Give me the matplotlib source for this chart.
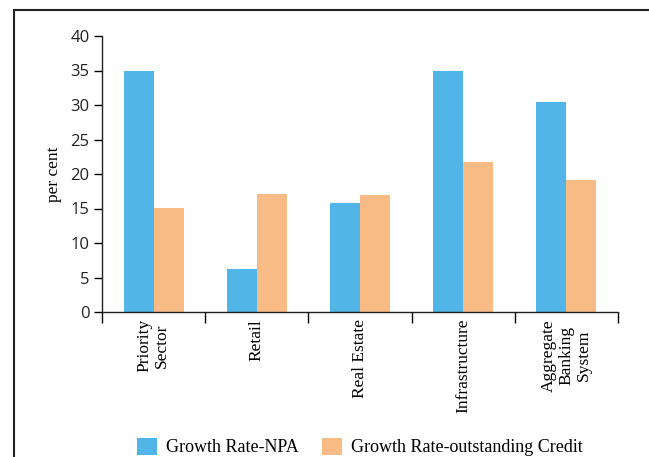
import numpy as np
import matplotlib.pyplot as plt
from matplotlib.lines import Line2D

categories = ['Priority\nSector', 'Retail', 'Real Estate', 'Infrastructure',
              'Aggregate\nBanking\nSystem']
npa_growth = [35.0, 6.2, 15.8, 35.0, 30.5]
credit_growth = [15.1, 17.1, 17.0, 21.7, 19.1]
yticks = [0, 5, 10, 15, 20, 25, 30, 35, 40]

BLUE = '#52B5E8'
ORANGE = '#F8BB85'
SERIF = ['Liberation Serif', 'DejaVu Serif']
SANS = ['Open Sans', 'DejaVu Sans']

fig = plt.figure(figsize=(6.49, 4.57), dpi=100)
ax = fig.add_axes([102 / 649, 1 - 312 / 457, 516 / 649, 276 / 457])

x = np.arange(len(categories))
w = 0.29
ax.bar(x - w / 2, npa_growth, w, color=BLUE, label='Growth Rate-NPA')
ax.bar(x + w / 2, credit_growth, w, color=ORANGE,
       label='Growth Rate-outstanding Credit')

ax.set_xlim(-0.5, len(categories) - 0.5)
ax.set_ylim(0, 40)
ax.set_yticks(yticks)
ax.set_yticklabels([str(t) for t in yticks], family=SANS, fontsize=12,
                   color='#222222')
ax.set_xticks(np.arange(len(categories) + 1) - 0.5)
ax.set_xticklabels([])
ax.set_xticks(x, minor=True)
ax.set_xticklabels(categories, minor=True, rotation=90, family=SERIF,
                   fontsize=12.5, va='top', ha='center', linespacing=1.12)
ax.tick_params(axis='x', which='major', length=8, width=1, direction='out')
ax.tick_params(axis='x', which='minor', length=0, pad=5)
ax.tick_params(axis='y', length=6, width=1, direction='out', pad=3)

for s in ['top', 'right']:
    ax.spines[s].set_visible(False)
for s in ['left', 'bottom']:
    ax.spines[s].set_linewidth(1)
    ax.spines[s].set_color('#222222')

ax.set_ylabel('per cent', family=SERIF, fontsize=12.5, labelpad=6)

leg = fig.legend(loc='center', bbox_to_anchor=(0.555, 1 - 447 / 457), ncol=2,
                 frameon=False, prop={'family': SERIF, 'size': 13},
                 handlelength=1.1, handleheight=1.1, handletextpad=0.5,
                 columnspacing=1.3, borderaxespad=0)

# outer frame around the chart
fig.add_artist(Line2D([14.5 / 649, 14.5 / 649], [0, 1 - 9.5 / 457],
                      transform=fig.transFigure, color='#222222', lw=1.5))
fig.add_artist(Line2D([14.5 / 649, 1], [1 - 9.5 / 457, 1 - 9.5 / 457],
                      transform=fig.transFigure, color='#222222', lw=1.5))

fig.savefig('out.png', dpi=100)
